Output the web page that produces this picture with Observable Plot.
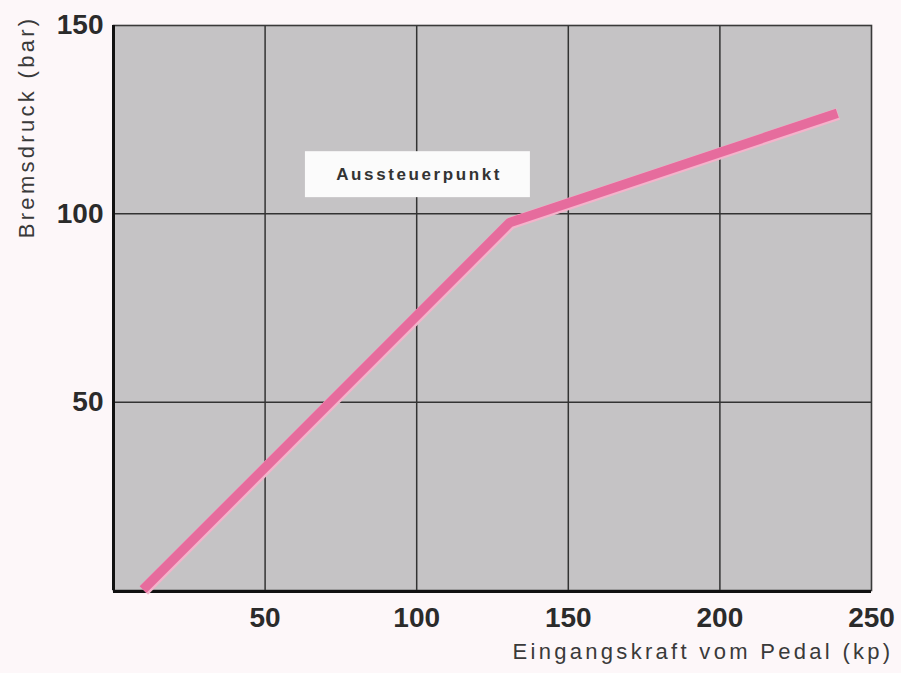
<!DOCTYPE html>
<html>
<head>
<meta charset="utf-8">
<script src="https://cdn.jsdelivr.net/npm/d3@7"></script>
<script src="https://cdn.jsdelivr.net/npm/@observablehq/plot@0.6"></script>
<style>
  html, body { margin: 0; padding: 0; background: #fdf7f9; }
  #chart { width: 901px; height: 673px; }
  .lbl { letter-spacing: 2.6px; }
  .axlbl { letter-spacing: 3.3px; }
</style>
</head>
<body>
<div id="chart"></div>
<script>
// Data
const kraft = [10, 131, 239];          // Eingangskraft vom Pedal (kp)
const druck = [0, 97.5, 126.5];        // Bremsdruck (bar)
const xTicks = [50, 100, 150, 200, 250];
const yTicks = [50, 100, 150];
const xLabel = ["Eingangskraft vom Pedal (kp)"];
const yLabel = ["Bremsdruck (bar)"];
const annotText = ["Aussteuerpunkt"];
const annotX = [100.8];
const annotY = [110.4];
const annotBoxX = [63.3, 137.5];
const annotBoxY = [104.3, 116.5];

const line = kraft.map((k, i) => ({k, d: druck[i]}));
const annot = annotText.map((t, i) => ({t, x: annotX[i], y: annotY[i]}));
const box = [{x1: annotBoxX[0], x2: annotBoxX[1], y1: annotBoxY[0], y2: annotBoxY[1]}];

const chart = Plot.plot({
  width: 901,
  height: 673,
  marginLeft: 113,
  marginRight: 30,
  marginTop: 25,
  marginBottom: 83,
  style: {background: "#fdf7f9", fontFamily: "'Liberation Sans', Arial, sans-serif", color: "#2b2b2b"},
  x: {domain: [0, 250]},
  y: {domain: [0, 150]},
  marks: [
    Plot.frame({fill: "#c5c3c5", stroke: "none"}),
    Plot.ruleX(xTicks.filter(t => t < 250), {stroke: "#333", strokeWidth: 1.5}),
    Plot.ruleY(yTicks.filter(t => t < 150), {stroke: "#333", strokeWidth: 1.5}),
    Plot.frame({stroke: "#3a3a3a", strokeWidth: 1.6}),
    Plot.ruleX([0], {stroke: "#111", strokeWidth: 3}),
    Plot.ruleY([0], {stroke: "#111", strokeWidth: 3, dy: 1}),
    Plot.rect(box, {x1: "x1", x2: "x2", y1: "y1", y2: "y2", fill: "#fbfbfb"}),
    Plot.text(annot, {x: "x", y: "y", text: "t", fontSize: 17, fontWeight: "bold", fill: "#333", className: "lbl"}),
    Plot.line(line, {x: "k", y: "d", stroke: "#f4b3cb", strokeWidth: 12, strokeLinecap: "butt", strokeLinejoin: "miter"}),
    Plot.line(line, {x: "k", y: "d", stroke: "#e66c9d", strokeWidth: 9.5, strokeLinecap: "butt", strokeLinejoin: "miter", dx: -0.8, dy: -0.8}),
    Plot.axisX(xTicks, {tickSize: 0, tickPadding: 17, fontSize: 28, fontWeight: "bold", fill: "#2b2b2b", label: null}),
    Plot.axisY(yTicks, {tickSize: 0, tickPadding: 10, fontSize: 28, fontWeight: "bold", fill: "#2b2b2b", label: null}),
    Plot.text(xLabel, {frameAnchor: "bottom-right", text: d => d, textAnchor: "end", lineAnchor: "middle", dx: 22, dy: 61, fontSize: 22, fill: "#3a3a3a", className: "axlbl"}),
    Plot.text(yLabel, {frameAnchor: "top-left", text: d => d, rotate: -90, textAnchor: "end", lineAnchor: "middle", dx: -87, dy: -10, fontSize: 22, fill: "#3a3a3a", className: "axlbl"})
  ]
});
document.getElementById("chart").appendChild(chart);
</script>
</body>
</html>
